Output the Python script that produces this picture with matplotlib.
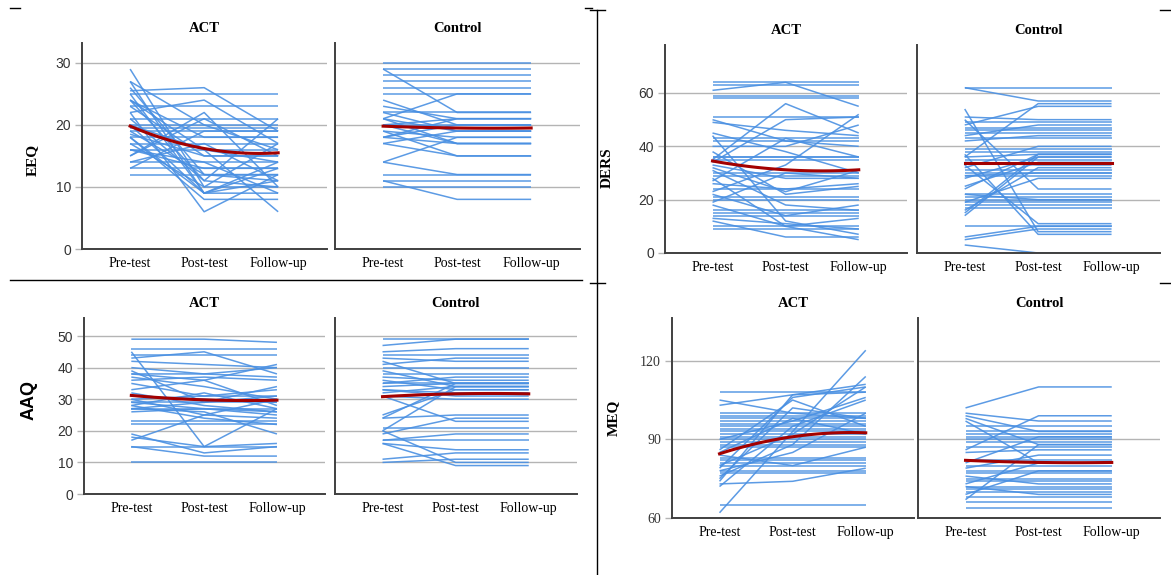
import numpy as np
import matplotlib
matplotlib.use("Agg")
import matplotlib.pyplot as plt
from matplotlib.lines import Line2D

W, H = 1171, 575
time_labels = ["Pre-test", "Post-test", "Follow-up"]
group_titles = ["ACT", "Control"]

# ---- EEQ (pre, post, follow-up) per participant ----
eeq_act = [(29,10,10),(27,9,9),(25.5,26,19),(25,25,25),(23,23,23),(24,16,14),(22,24,17),
           (15,22,10),(20,20,20),(19,19,19),(18,18,18),(17,17,17),(16,16,16),(14,14,14),
           (13,13,13),(12,12,12),(26,12,11),(25,9,13),(22,6,12),(21,11,21),(20,16,6),
           (18,8,8),(17,10,17),(16,14,9),(15,21,15),(14,17,11),(13,19,19),(19,12,12),
           (23,15,15),(27,20,16),(24,11,10),(18,9,14),(21,21,21),(19.5,19.5,19.5),
           (18.5,15,15),(16,13,13),(24,18,18),(20,9,11)]
eeq_ctl = [(30,30,30),(29,22,22),(28,28,28),(27,27,27),(26,26,26),(25,25,25),(24,20,20),
           (23,21,21),(21,25,25),(22,22,22),(21,19,19),(20,21,21),(19,18,18),(18,20,20),
           (17,19,19),(18,17,17),(17,15,15),(21,17,17),(14,12,12),(14,18,18),(12,12,12),
           (11,11,11),(11,8,8),(10,10,10),(19,15,15),(20,17,17),(29,29,29),(22,19,19),
           (20,20,20),(18,21,21)]
eeq_act_mean = [19.8, 16.2, 15.5]
eeq_ctl_mean = [19.8, 19.5, 19.5]

# ---- DERS ----
ders_act = [(64,64,64),(63,63,63),(61,64,55),(59,59,59),(58,58,58),(51,51,51),(50,42,40),
            (49,46,44),(35,56,45),(44,12,7),(43,43,43),(42,42,42),(40,40,48),(38,22,25),
            (36,36,36),(35,35,35),(33,28,28),(31,18,16),(29,29,29),(27,43,36),(26,24,26),
            (24,24,24),(22,14,18),(21,21,21),(20,20,20),(18,10,13),(16,16,16),(15,15,15),
            (13,11,9),(12,6,6),(10,10,10),(9,9,9),(23,33,52),(32,23,31),(45,38,30),
            (28,10,5),(34,50,51),(19,30,28),(36,36,36),(14,14,14),(30,30,30)]
ders_ctl = [(62,62,62),(62,57,57),(54,8,8),(51,50,50),(50,24,24),(49,49,49),(48,55,55),
            (45,45,45),(44,48,48),(43,43,43),(36,37,37),(35,35,35),(33,11,11),(32,40,40),
            (30,30,30),(28,36,36),(25,34,34),(24,37,37),(22,22,22),(21,21,21),(20,20,20),
            (19,28,28),(17,17,17),(16,32,32),(15,37,37),(14,36,36),(6,10,10),(5,9,9),
            (3,0,0),(37,7,7),(31,31,31),(39,39,39),(42,44,44),(18,18,18),(29,29,29),
            (47,47,47),(46,46,46),(38,38,38),(34,33,33),(22,20,20),(19,19,19),(10,10,10),
            (36,56,56),(29,30,30)]
ders_act_mean = [34.5, 31.2, 31.2]
ders_ctl_mean = [33.8, 33.8, 33.8]

# ---- AAQ ----
aaq_act = [(49,49,48),(46,46,46),(45,15,27),(44,44,44),(43,45,38),(42,41,40),(38,38,37),
           (37,34,30),(36,37,36),(35,31,33),(33,36,28),(32,28,26),(31,30,29),(30,25,30),
           (29,27,25),(28,32,27),(28,24,22),(27,29,31),(27,26,19),(26,27,26),(23,23,23),
           (22,22,22),(19,13,15),(18,15,16),(17,25,24),(15,15,15),(15,12,12),(10,10,10),
           (40,38,40),(39,29,34),(29,29,29),(27,27,27),(30,31,31),(38,36,41)]
aaq_ctl = [(49,49,49),(47,49,49),(45,46,46),(44,44,44),(43,42,42),(42,35,35),(41,43,43),
           (40,40,40),(39,34,34),(38,38,38),(37,36,36),(36,33,33),(35,37,37),(34,35,35),
           (33,31,31),(32,34,34),(31,30,30),(31,23,23),(25,33,33),(24,35,35),(24,25,25),
           (21,21,21),(20,34,34),(19,24,24),(17,17,17),(16,9,9),(16,14,14),(20,10,10),
           (11,13,13),(10,11,11),(17,19,19),(35,35,35),(33,32,32)]
aaq_act_mean = [31.2, 29.8, 29.7]
aaq_ctl_mean = [30.8, 31.7, 31.7]

# ---- MEQ ----
meq_act = [(108,108,108),(105,100,98),(103,107,108),(100,100,100),(99,99,99),(98,98,98),
           (97,97,97),(96,96,96),(95,95,95),(93,93,93),(91,91,91),(90,90,90),(89,89,89),
           (88,88,88),(87,87,87),(83,83,83),(82,82,82),(81,81,81),(80,80,80),(78,78,78),
           (77,77,77),(62,93,124),(65,65,65),(72,95,105),(73,74,79),(74,107,111),
           (75,102,98),(76,88,114),(79,106,110),(85,98,92),(86,105,95),(84,80,87),
           (80,92,110),(78,85,100),(90,97,106),(94,94,94),(92,92,92)]
meq_ctl = [(102,110,110),(100,97,97),(99,93,93),(98,88,88),(97,81,81),(95,95,95),(93,93,93),
           (91,91,91),(90,90,90),(89,89,89),(87,87,87),(86,99,99),(82,82,82),(81,91,91),
           (80,80,80),(78,78,78),(77,77,77),(76,73,73),(75,75,75),(74,74,74),(73,81,81),
           (72,72,72),(71,71,71),(70,70,70),(69,78,78),(68,68,68),(67,88,88),(64,64,64),
           (66,66,66),(79,84,84),(92,92,92),(85,86,86),(72,69,69)]
meq_act_mean = [84.5, 91.0, 92.5]
meq_ctl_mean = [82.0, 81.2, 81.2]

# ---- layout (pixels) ----
panels = [
    dict(name="EEQ", data=(eeq_act, eeq_ctl), means=(eeq_act_mean, eeq_ctl_mean),
         lefts=(82, 335), widths=(245, 245), top=43, bottom=249, ylim=(0, 33.2),
         yticks=[0, 10, 20, 30], ylab=(32, 160), ylabfont=("Liberation Serif", 11), ytfont="Liberation Sans"),
    dict(name="DERS", data=(ders_act, ders_ctl), means=(ders_act_mean, ders_ctl_mean),
         lefts=(665, 917), widths=(242, 243), top=45, bottom=253, ylim=(0, 78),
         yticks=[0, 20, 40, 60], ylab=(607, 168), ylabfont=("Liberation Serif", 11), ytfont="Liberation Sans"),
    dict(name="AAQ", data=(aaq_act, aaq_ctl), means=(aaq_act_mean, aaq_ctl_mean),
         lefts=(84, 335), widths=(241, 242), top=318, bottom=494, ylim=(0, 55.7),
         yticks=[0, 10, 20, 30, 40, 50], ylab=(29, 400), ylabfont=("Liberation Sans", 13), ytfont="Liberation Sans"),
    dict(name="MEQ", data=(meq_act, meq_ctl), means=(meq_act_mean, meq_ctl_mean),
         lefts=(672, 918), widths=(242, 242), top=318, bottom=518, ylim=(60, 136.3),
         yticks=[60, 90, 120], ylab=(613, 418), ylabfont=("Liberation Serif", 11), ytfont="Liberation Serif"),
]

BLUE = "#4a90e2"
RED = "#a30000"
SPINE = "#404040"
GRID = "#b4b4b4"

fig = plt.figure(figsize=(W / 100, H / 100), dpi=100)
x = np.arange(3)
xs = np.linspace(0, 2, 60)

for p in panels:
    for gi in range(2):
        l = p["lefts"][gi]; w = p["widths"][gi]
        ax = fig.add_axes([l / W, 1 - p["bottom"] / H, w / W, (p["bottom"] - p["top"]) / H])
        for row in p["data"][gi]:
            ax.plot(x, row, color=BLUE, lw=1.1, alpha=0.9, solid_capstyle="butt", zorder=2)
        coef = np.polyfit(x, p["means"][gi], 2)
        ax.plot(xs, np.polyval(coef, xs), color=RED, lw=2.2, zorder=3)
        ax.set_xlim(-0.65, 2.66)
        ax.set_ylim(*p["ylim"])
        ax.set_yticks(p["yticks"])
        ax.yaxis.grid(True, color=GRID, lw=1.0, zorder=0)
        ax.set_axisbelow(True)
        for s in ("top", "right"):
            ax.spines[s].set_visible(False)
        for s in ("left", "bottom"):
            ax.spines[s].set_color(SPINE)
            ax.spines[s].set_linewidth(1.4)
        ax.set_xticks(x)
        ax.set_xticklabels(time_labels, fontfamily="Liberation Serif", fontsize=10)
        ax.tick_params(axis="x", length=0, pad=6)
        if gi == 0:
            ax.tick_params(axis="y", length=5, color=GRID, width=1, pad=3,
                           labelsize=10, labelcolor="#333333")
            for t in ax.get_yticklabels():
                t.set_fontfamily(p["ytfont"])
        else:
            ax.tick_params(axis="y", length=0, labelleft=False)
        ax.set_title(group_titles[gi], fontfamily="Liberation Serif", fontweight="bold",
                     fontsize=10.5, pad=8)
    fx, fy = p["ylab"]
    fig.text(fx / W, 1 - fy / H, p["name"], rotation=90, ha="center", va="center",
             fontfamily=p["ylabfont"][0], fontsize=p["ylabfont"][1], fontweight="bold")

def pline(x0, y0, x1, y1, lw=1.0):
    fig.add_artist(Line2D([x0 / W, x1 / W], [1 - y0 / H, 1 - y1 / H],
                          color="black", lw=lw, transform=fig.transFigure))

pline(10, 280, 582, 280)
pline(10, 8, 20, 8)
pline(585, 8, 592, 8)
pline(597, 10, 597, 575)
pline(590, 10, 605, 10)
pline(590, 283, 605, 283)
pline(1160, 10, 1171, 10)
pline(1160, 283, 1171, 283)

fig.savefig("out.png", dpi=100)
